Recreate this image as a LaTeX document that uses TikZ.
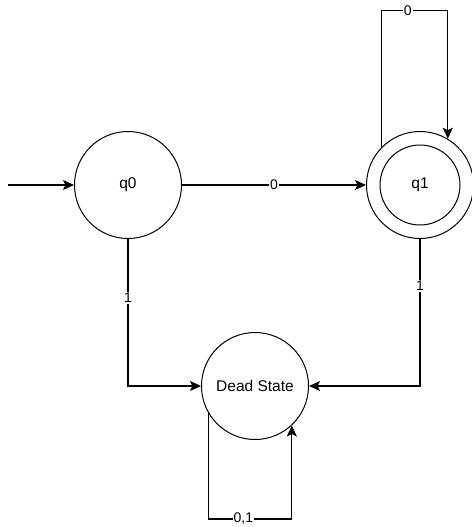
\documentclass[tikz,border=0pt]{standalone}
\usepackage{fontspec}
\setmainfont{Liberation Sans}
\usetikzlibrary{arrows.meta}
\definecolor{dfacolor0000}{RGB}{255,255,255}
\definecolor{dfacolor0001}{RGB}{0,0,0}
\begin{document}
\begin{tikzpicture}[yscale=-1
,pstate/.style={circle,draw=dfacolor0001,fill=dfacolor0000,line width=1pt,minimum size=107pt,inner sep=0pt,font=\fontsize{15.5}{18}\selectfont}
,pedge/.style={color=dfacolor0001,line width=1.2pt,-{Stealth[length=11pt,width=10pt,inset=2.5pt]}}
,plabel/.style={fill=dfacolor0000,inner sep=1pt,font=\fontsize{14}{16}\selectfont}
]
\useasboundingbox (0pt,0pt) rectangle (471pt,527pt);
\node[pstate] (q0) at (128pt,185pt) {q0};
\node[pstate] (q1) at (420pt,185pt) {};
\node[pstate,minimum size=80pt] (q1in) at (q1.center) {q1};
\node[pstate] (dead) at (255pt,386pt) {Dead State};
\coordinate (start) at (8pt,185pt);
\draw[pedge] (start) -- (q0);
\draw[pedge] (q0) -- node[plabel]{0} (q1);
\draw[pedge] (q1.136) -- ++(0pt,-137pt) -| node[plabel,pos=0.2]{0} (q1.59);
\draw[pedge] (q0) |- node[plabel,pos=0.2]{1} (dead);
\draw[pedge] (q1) |- node[plabel,pos=0.16]{1} (dead);
\draw[pedge] (dead.210) -- ++(0pt,106pt) -| node[plabel,pos=0.21]{0,1} (dead.313);
\end{tikzpicture}
\end{document}
